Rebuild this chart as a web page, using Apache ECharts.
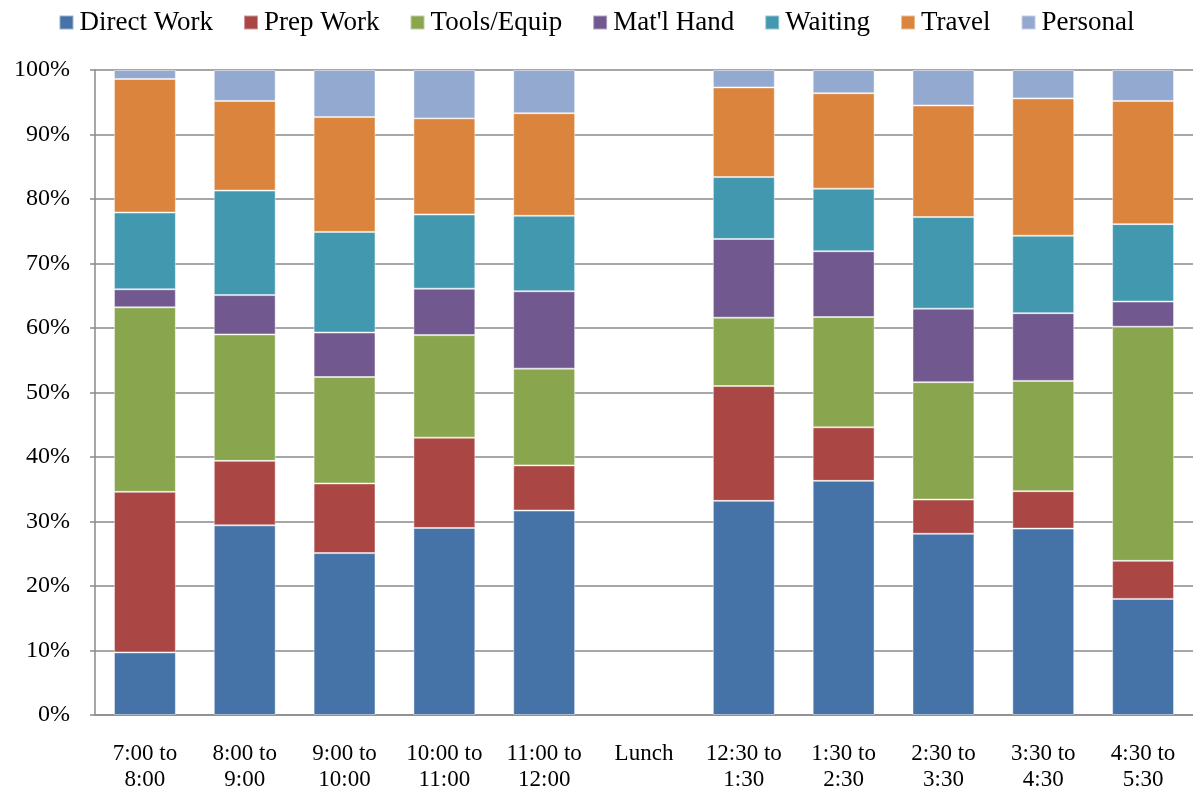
<!DOCTYPE html>
<html>
<head>
<meta charset="utf-8">
<script src="https://cdn.jsdelivr.net/npm/echarts@6/dist/echarts.min.js"></script>
<style>
  html, body { margin: 0; padding: 0; background: #fff; }
  #chart { width: 1193px; height: 793px; }
</style>
</head>
<body>
<div id="chart"></div>
<script>
// Hourly breakdown of crew activity (percent of each period)
const periods = ['7:00 to\n8:00', '8:00 to\n9:00', '9:00 to\n10:00', '10:00 to\n11:00', '11:00 to\n12:00',
  'Lunch', '12:30 to\n1:30', '1:30 to\n2:30', '2:30 to\n3:30', '3:30 to\n4:30', '4:30 to\n5:30'];

const directWork = [9.7, 29.4, 25.1, 29.0, 31.7, null, 33.2, 36.3, 28.1, 28.9, 18.0];
const prepWork   = [24.9, 10.0, 10.8, 14.0, 7.0, null, 17.8, 8.3, 5.3, 5.8, 5.9];
const toolsEquip = [28.6, 19.6, 16.5, 15.9, 15.0, null, 10.6, 17.1, 18.2, 17.1, 36.3];
const matlHand   = [2.8, 6.1, 6.9, 7.2, 12.0, null, 12.2, 10.2, 11.4, 10.5, 3.9];
const waiting    = [11.9, 16.2, 15.6, 11.5, 11.7, null, 9.6, 9.7, 14.2, 12.0, 12.0];
const travel     = [20.7, 13.9, 17.8, 14.9, 15.9, null, 13.9, 14.8, 17.3, 21.3, 19.1];
const personal   = [1.4, 4.8, 7.3, 7.5, 6.7, null, 2.7, 3.6, 5.5, 4.4, 4.8];

const seriesNames = ['Direct Work', 'Prep Work', 'Tools/Equip', "Mat'l Hand", 'Waiting', 'Travel', 'Personal'];
const seriesData = [directWork, prepWork, toolsEquip, matlHand, waiting, travel, personal];
const colors = ['#4572A7', '#AA4643', '#89A54E', '#71588F', '#4198AF', '#DB843D', '#93A9CF'];

const font = '"Liberation Serif", "Times New Roman", serif';
const gridColor = '#8a8a8a';

const chart = echarts.init(document.getElementById('chart'), null, { renderer: 'canvas' });

chart.setOption({
  animation: false,
  color: colors,
  textStyle: { fontFamily: font, color: '#000' },
  legend: {
    top: 4,
    left: 'center',
    itemWidth: 14,
    itemHeight: 14,
    itemGap: 30,
    icon: 'rect',
    textStyle: { fontFamily: font, fontSize: 27, color: '#000', padding: [0, 0, 0, 1] },
    data: seriesNames
  },
  grid: { left: 95, right: 0, top: 70, bottom: 72 },
  xAxis: {
    type: 'category',
    data: periods,
    axisLine: { lineStyle: { color: gridColor, width: 1.5 } },
    axisTick: { show: false },
    axisLabel: {
      fontFamily: font, fontSize: 23, color: '#000', margin: 26, lineHeight: 26,
      interval: 0
    }
  },
  yAxis: {
    type: 'value',
    min: 0,
    max: 100,
    interval: 10,
    axisLine: { show: true, lineStyle: { color: gridColor, width: 1.5 } },
    axisTick: { show: true, length: 5, lineStyle: { color: gridColor, width: 1.5 } },
    splitLine: { lineStyle: { color: gridColor, width: 1.5 } },
    axisLabel: { fontFamily: font, fontSize: 24, color: '#000', margin: 25, formatter: '{value}%' }
  },
  series: seriesNames.map((name, i) => ({
    name: name,
    type: 'bar',
    stack: 'total',
    barWidth: '62%',
    data: seriesData[i],
    itemStyle: { color: colors[i], borderColor: 'rgba(255,255,255,0.45)', borderWidth: 1 }
  }))
});
</script>
</body>
</html>
